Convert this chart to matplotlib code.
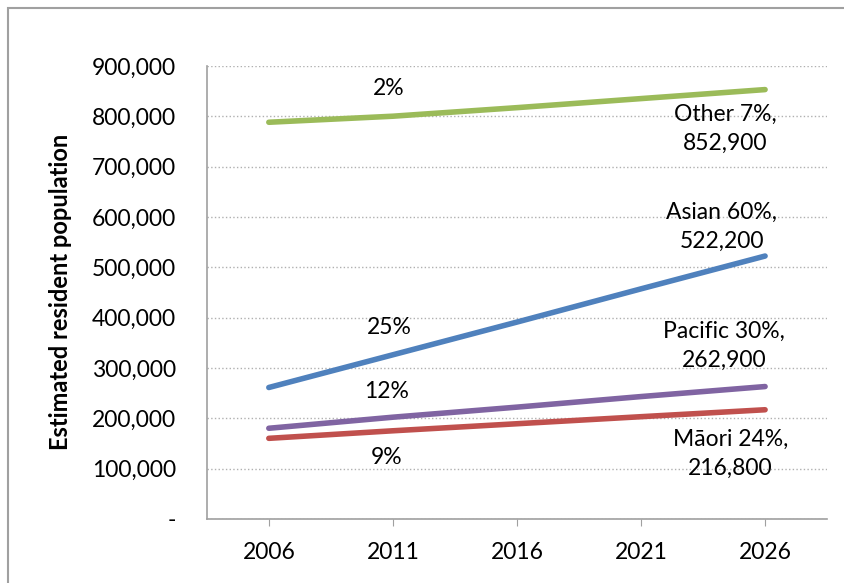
import matplotlib.pyplot as plt
from matplotlib.patches import Rectangle
from matplotlib.ticker import FuncFormatter

plt.rcParams['font.family'] = ['Lato', 'DejaVu Sans']

years = ['2006', '2011', '2016', '2021', '2026']
other = [788000, 800000, 817000, 835000, 852900]
asian = [261000, 326000, 391000, 457000, 522200]
pacific = [180000, 202000, 222000, 243000, 262900]
maori = [160000, 175000, 189000, 203000, 216800]

growth_labels = ['2%', '25%', '12%', '9%']
end_labels = ['Other 7%,\n852,900', 'Asian 60%,\n522,200',
              'Pacific 30%,\n262,900', 'M\u0101ori 24%,\n216,800']

fig = plt.figure(figsize=(8.44, 5.83), dpi=100)
fig.patches.append(Rectangle((0.009, -0.1), 1.2, 1.086, transform=fig.transFigure,
                             fill=False, edgecolor='#a0a0a0', linewidth=1.5))
ax = fig.add_axes([0.245, 0.11, 0.735, 0.777])

x = range(len(years))
ax.plot(x, other, color='#9BBB59', lw=4, solid_capstyle='round')
ax.plot(x, asian, color='#4F81BD', lw=4, solid_capstyle='round')
ax.plot(x, pacific, color='#8064A2', lw=4, solid_capstyle='round')
ax.plot(x, maori, color='#C0504D', lw=4, solid_capstyle='round')

ax.set_xlim(-0.5, 4.5)
ax.set_ylim(0, 900000)
ax.set_yticks(range(0, 900001, 100000))
ax.yaxis.set_major_formatter(FuncFormatter(lambda v, p: '-' if v == 0 else f'{int(v):,}'))
ax.set_xticks(list(x))
ax.set_xticklabels(years)
ax.tick_params(axis='y', length=0, labelsize=16.5, pad=22)
ax.tick_params(axis='x', length=5, color='#a0a0a0', labelsize=16.5, pad=12)
ax.grid(axis='y', color='#b0b0b0', linestyle=':', linewidth=1)
for s in ['top', 'right']:
    ax.spines[s].set_visible(False)
for s in ['left', 'bottom']:
    ax.spines[s].set_color('#a0a0a0')
    ax.spines[s].set_linewidth(1.2)

ax.set_ylabel('Estimated resident population', fontsize=17, fontweight='bold')
ax.yaxis.set_label_coords(-0.218, 0.5)

fs = 16.5
# growth labels 2006-2011
ax.text(0.97, 855000, growth_labels[0], fontsize=fs, ha='center', va='center')
ax.text(0.97, 381000, growth_labels[1], fontsize=fs, ha='center', va='center')
ax.text(0.95, 254000, growth_labels[2], fontsize=fs, ha='center', va='center')
ax.text(0.95, 121000, growth_labels[3], fontsize=fs, ha='center', va='center')

# growth labels 2011-2026
ax.text(3.68, 775000, end_labels[0], fontsize=fs, ha='center', va='center', linespacing=1.45)
ax.text(3.65, 580000, end_labels[1], fontsize=fs, ha='center', va='center', linespacing=1.45)
ax.text(3.67, 344000, end_labels[2], fontsize=fs, ha='center', va='center', linespacing=1.45)
ax.text(3.72, 129000, end_labels[3], fontsize=fs, ha='center', va='center', linespacing=1.45)

fig.savefig('out.png', dpi=100)
